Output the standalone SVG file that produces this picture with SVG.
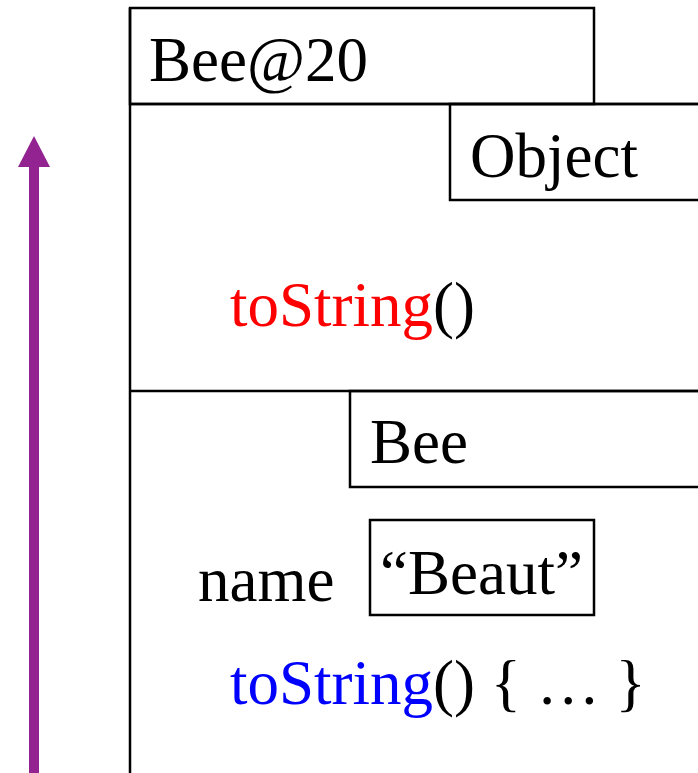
<svg xmlns="http://www.w3.org/2000/svg" width="698" height="773" viewBox="0 0 698 773">
  <style>
    .box { fill: none; stroke: #000; stroke-width: 2.5; }
    .ln { stroke: #000; stroke-width: 2.5; fill: none; }
    .t { font-family: "Liberation Serif", "Times New Roman", serif; font-size: 63px; fill: #000; }
    .red { fill: #FF0000; }
    .blue { fill: #0000FF; }
  </style>
  <defs>
    <marker id="head" viewBox="0 0 31 32" refX="0" refY="16" markerWidth="31" markerHeight="32" markerUnits="userSpaceOnUse" orient="auto">
      <path d="M0,0 L31,16 L0,32 Z" fill="#922391"/>
    </marker>
  </defs>

  <rect width="698" height="773" fill="#fff"/>

  <!-- object instance Bee@20 -->
  <g id="bee20">
    <line class="ln" x1="130" y1="8" x2="130" y2="773"/>
    <rect class="box" x="130" y="8" width="464" height="96"/>
    <text class="t" x="149" y="81">Bee@20</text>
  </g>

  <!-- Object partition -->
  <g id="object-part">
    <line class="ln" x1="130" y1="104" x2="698" y2="104"/>
    <rect class="box" x="450" y="104" width="250" height="96"/>
    <text class="t" x="470" y="177">Object</text>
    <text class="t" x="230" y="326"><tspan class="red">toString</tspan>()</text>
  </g>

  <!-- Bee partition -->
  <g id="bee-part">
    <line class="ln" x1="130" y1="391" x2="698" y2="391"/>
    <rect class="box" x="350" y="391" width="350" height="96"/>
    <text class="t" x="370" y="463">Bee</text>
  </g>

  <!-- field name -->
  <g id="name-field">
    <text class="t" x="198" y="601">name</text>
    <rect class="box" x="370" y="520" width="224" height="95"/>
    <text class="t" x="380" y="594">“Beaut”</text>
  </g>

  <!-- overriding method -->
  <g id="bee-method">
    <text class="t" x="230" y="704"><tspan class="blue">toString</tspan>() { … }</text>
  </g>

  <g id="connectors">
    <line x1="34" y1="773" x2="34" y2="167" stroke="#922391" stroke-width="10" marker-end="url(#head)"/>
  </g>
</svg>
